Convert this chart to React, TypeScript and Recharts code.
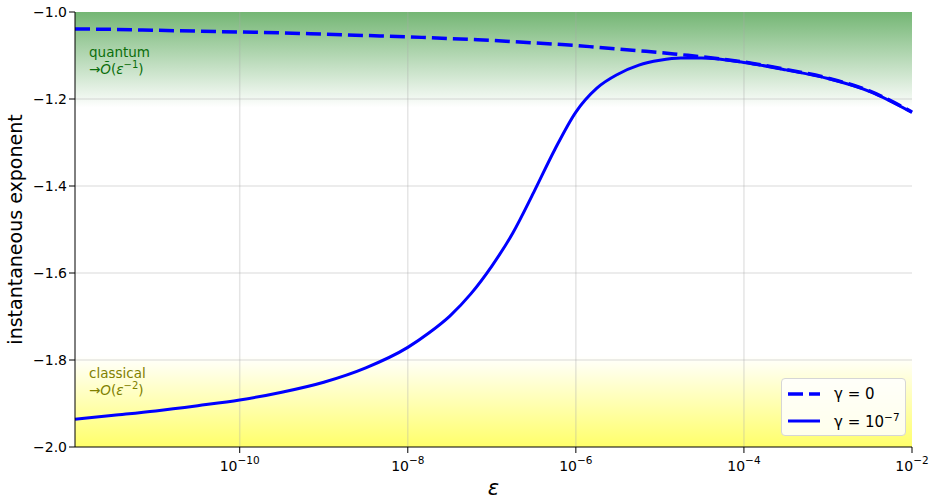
import React from "react";
import { Legend, Line, LineChart, ReferenceArea, ReferenceLine, XAxis, YAxis } from "recharts";

// log10(epsilon) sample points
const logEps = [-11.96, -11.5, -11, -10.5, -10, -9.5, -9, -8.5, -8, -7.75, -7.5, -7.25, -7, -6.75, -6.5, -6.25, -6, -5.75, -5.5, -5.25, -5, -4.75, -4.5, -4, -3.5, -3, -2.5, -2];
// gamma = 0
const gammaZero = [-1.039, -1.04, -1.042, -1.044, -1.046, -1.048, -1.051, -1.054, -1.057, -1.059, -1.061, -1.063, -1.065, -1.068, -1.071, -1.074, -1.077, -1.081, -1.085, -1.089, -1.093, -1.098, -1.103, -1.115, -1.132, -1.152, -1.182, -1.23];
// gamma = 1e-7
const gammaSmall = [-1.936, -1.927, -1.917, -1.905, -1.892, -1.874, -1.851, -1.818, -1.771, -1.738, -1.699, -1.648, -1.584, -1.508, -1.414, -1.316, -1.23, -1.175, -1.143, -1.122, -1.111, -1.106, -1.106, -1.116, -1.133, -1.153, -1.183, -1.231];

const xTicks = [-10, -8, -6, -4, -2];
const yTicks = [-2.0, -1.8, -1.6, -1.4, -1.2, -1.0];

const data = logEps.map((x, i) => ({ x, g0: gammaZero[i], g7: gammaSmall[i] }));

const font = "DejaVu Sans, sans-serif";
const gridStroke = { stroke: "#a8a8a8", strokeOpacity: 0.3, strokeWidth: 1.5 };

const EpsTick = ({ x, y, payload }: any) => (
  <text x={x} y={y + 16} textAnchor="middle" fontSize={14} fontFamily={font} fill="#000">
    <tspan>10</tspan>
    <tspan dy={-7} fontSize={10.5}>{"\u2212" + Math.abs(payload.value)}</tspan>
  </text>
);

const LegendBox = () => (
  <div style={{ width: 125, height: 58, boxSizing: "border-box", border: "1px solid #d6d6d6", borderRadius: 4, background: "rgba(255,255,255,0.85)", fontFamily: font, fontSize: 15, color: "#000" }}>
    <div style={{ display: "flex", alignItems: "center", height: 28, marginTop: 1 }}>
      <svg width={46} height={10}><line x1={6} y1={5} x2={38} y2={5} stroke="#0000ff" strokeWidth={3.5} strokeDasharray="15 6" /></svg>
      <span style={{ marginLeft: 6 }}>γ = 0</span>
    </div>
    <div style={{ display: "flex", alignItems: "center", height: 26 }}>
      <svg width={46} height={10}><line x1={6} y1={5} x2={38} y2={5} stroke="#0000ff" strokeWidth={3} /></svg>
      <span style={{ marginLeft: 6 }}>γ = 10<sup style={{ fontSize: 10.5 }}>−7</sup></span>
    </div>
  </div>
);

export default function App() {
  return (
    <div style={{ position: "absolute", left: 0, top: 0 }}>
      <LineChart width={939} height={503} data={data} margin={{ top: 12, right: 27, left: 0, bottom: 0 }}>
        <defs>
          <linearGradient id="greenFade" x1="0" y1="0" x2="0" y2="1">
            <stop offset="0%" stopColor="#74b674" />
            <stop offset="100%" stopColor="#ffffff" />
          </linearGradient>
          <linearGradient id="yellowFade" x1="0" y1="0" x2="0" y2="1">
            <stop offset="0%" stopColor="#ffffff" />
            <stop offset="100%" stopColor="#ffff6a" />
          </linearGradient>
        </defs>
        <ReferenceArea
          y1={-1.22}
          y2={-1.0}
          fill="url(#greenFade)"
          fillOpacity={1}
          stroke="none"
          label={({ viewBox }: any) => (
            <g fontFamily={font} fontSize={13.5} fill="#0b6e0b">
              <text x={viewBox.x + 14} y={viewBox.y + 45}>quantum</text>
              <text x={viewBox.x + 14} y={viewBox.y + 62}>→<tspan fontStyle="italic">Õ</tspan>(<tspan fontStyle="italic">ε</tspan><tspan dy={-6} fontSize={10}>−1</tspan><tspan dy={6}>)</tspan></text>
            </g>
          )}
        />
        <ReferenceArea
          y1={-2.0}
          y2={-1.79}
          fill="url(#yellowFade)"
          fillOpacity={1}
          stroke="none"
          label={({ viewBox }: any) => (
            <g fontFamily={font} fontSize={13.5} fill="#808000">
              <text x={viewBox.x + 14} y={viewBox.y + viewBox.height - 69}>classical</text>
              <text x={viewBox.x + 14} y={viewBox.y + viewBox.height - 52}>→<tspan fontStyle="italic">O</tspan>(<tspan fontStyle="italic">ε</tspan><tspan dy={-6} fontSize={10}>−2</tspan><tspan dy={6}>)</tspan></text>
            </g>
          )}
        />
        {xTicks.slice(0, -1).map((t) => <ReferenceLine key={"vx" + t} x={t} {...gridStroke} />)}
        {yTicks.slice(1, -1).map((t) => <ReferenceLine key={"hy" + t} y={t} {...gridStroke} />)}
        <XAxis
          dataKey="x"
          type="number"
          domain={[-11.96, -2]}
          ticks={xTicks}
          tick={<EpsTick />}
          height={56}
          axisLine={{ stroke: "#000" }}
          tickLine={{ stroke: "#000" }}
          label={({ viewBox }: any) => (
            <text x={viewBox.x + viewBox.width / 2} y={viewBox.y + 48} textAnchor="middle" fontFamily={font} fontSize={21} fontStyle="italic" fill="#000">ε</text>
          )}
        />
        <XAxis xAxisId="top" orientation="top" type="number" domain={[-11.96, -2]} height={0} tick={false} tickLine={false} axisLine={{ stroke: "#000" }} />
        <YAxis
          type="number"
          domain={[-2, -1]}
          ticks={yTicks}
          width={75}
          tick={{ fontSize: 14, fontFamily: font, fill: "#000" }}
          tickFormatter={(v: number) => v.toFixed(1).replace("-", "\u2212")}
          axisLine={{ stroke: "#000" }}
          tickLine={{ stroke: "#000" }}
          label={({ viewBox }: any) => (
            <text x={15} y={viewBox.y + viewBox.height / 2} transform={`rotate(-90, 15, ${viewBox.y + viewBox.height / 2})`} textAnchor="middle" dominantBaseline="central" fontFamily={font} fontSize={19} fill="#000">instantaneous exponent</text>
          )}
        />
        <YAxis yAxisId="right" orientation="right" type="number" domain={[-2, -1]} width={0} tick={false} tickLine={false} axisLine={{ stroke: "#000" }} />
        <Line dataKey="g0" type="monotone" stroke="#0000ff" strokeWidth={3.5} strokeDasharray="15 6" dot={false} isAnimationActive={false} />
        <Line dataKey="g7" type="monotone" stroke="#0000ff" strokeWidth={3} dot={false} isAnimationActive={false} />
        <Legend layout="vertical" align="center" verticalAlign="middle" content={() => <LegendBox />} wrapperStyle={{ left: 781, top: 378, width: 125, height: 58 }} />
      </LineChart>
    </div>
  );
}
